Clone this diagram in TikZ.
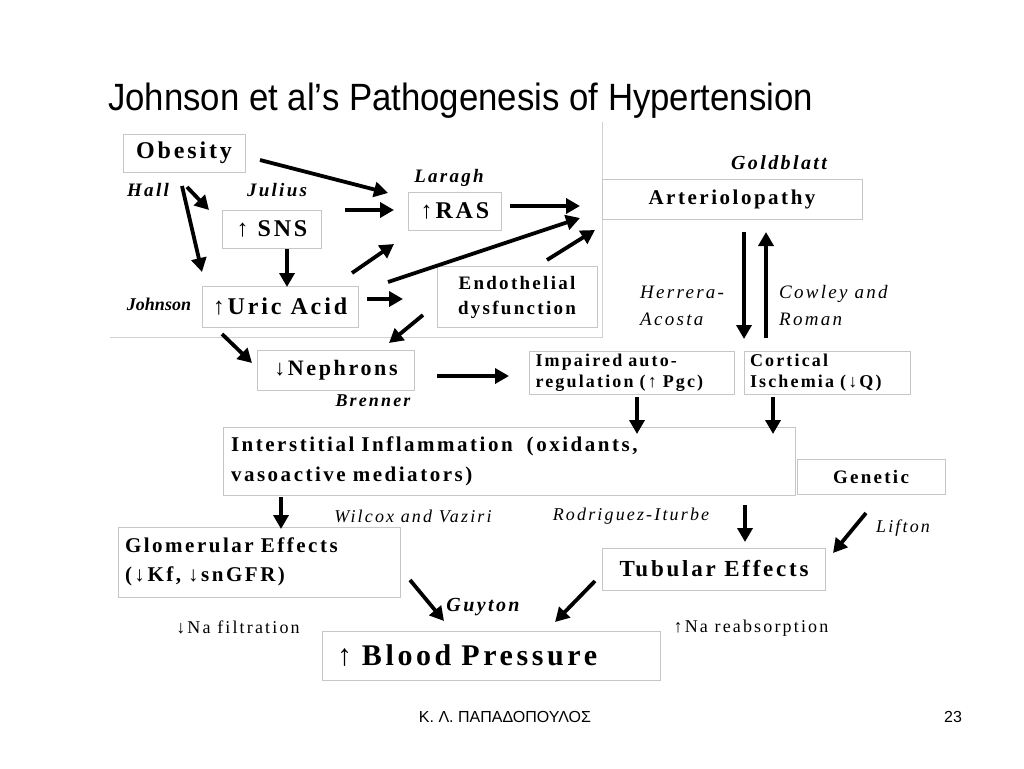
\documentclass[tikz,border=0pt]{standalone}
\usepackage{fontspec}
\setmainfont{Liberation Serif}
\newfontfamily\lsfont{Liberation Serif}[LetterSpace=12]
\newfontfamily\titlefont{Liberation Sans}
\usetikzlibrary{arrows.meta}
\newcommand\fsz[2]{\fontsize{#1pt}{#2pt}\selectfont}
\begin{document}
\begin{tikzpicture}[x=1pt,y=-1pt,
  box/.style={draw=gray!45,line width=1pt,inner xsep=8pt,inner ysep=2pt,align=center},
  bf/.style 2 args={font=\lsfont\bfseries\fsz{#1}{#2}},
  bi/.style 2 args={inner sep=0pt,font=\lsfont\bfseries\itshape\fsz{#1}{#2}},
  it/.style 2 args={inner sep=0pt,font=\lsfont\itshape\fsz{#1}{#2}},
  arr/.style={line width=3.8pt,-{Triangle[length=14pt,width=15pt]}},
  frame/.style={draw=gray!35,line width=1pt}]
\useasboundingbox (0,0) rectangle (1024,768);
\fill[white] (0,0) rectangle (1024,768);

% title
\node[inner sep=0pt,anchor=base west,font=\titlefont\fsz{38}{42}] (title) at (108,110)
  {\scalebox{0.915}[1]{Johnson et al’s Pathogenesis of Hypertension}};

% faint frame
\draw[frame] (110,337) -- (602,337) -- (602,122);

% boxes
\node[box,bf={24}{26},minimum width=122,minimum height=38] (obesity) at (184,153) {Obesity};
\node[box,bf={24}{26},minimum width=99,minimum height=38] (sns) at (272,229) {↑ SNS};
\node[box,bf={24}{26},minimum width=93,minimum height=38] (ras) at (455,211) {↑RAS};
\node[box,bf={24}{26},minimum width=156,minimum height=41] (uric) at (280,307) {↑Uric Acid};
\node[box,bf={19}{25},minimum width=160,minimum height=61] (endo) at (517,297) {Endothelial\\dysfunction};
\node[box,bf={21}{24},minimum width=260,minimum height=40] (arterio) at (732,199) {Arteriolopathy};
\node[box,bf={22}{24},minimum width=157,minimum height=40] (nephrons) at (336,370) {↓Nephrons};
\node[box,bf={18}{21},minimum width=205,minimum height=43,text width=193,align=left,inner xsep=6pt] (impaired) at (632,373) {Impaired auto-\\regulation (↑ Pgc)};
\node[box,bf={18}{21},minimum width=166,minimum height=43,text width=154,align=left,inner xsep=6pt] (cortical) at (827,373) {Cortical\\Ischemia (↓Q)};
\node[box,bf={21}{30},minimum width=572,minimum height=68,text width=556,align=left] (inter) at (509,461) {Interstitial Inflammation\ \ (oxidants,\\vasoactive mediators)};
\node[box,bf={19}{22},minimum width=148,minimum height=35] (genetic) at (871,477) {Genetic};
\node[box,bf={21}{29},minimum width=282,minimum height=70,text width=268,align=left,inner xsep=7pt] (glom) at (259,562) {Glomerular Effects\\(↓Kf, ↓snGFR)};
\node[box,bf={23}{26},minimum width=223,minimum height=42] (tubular) at (714,569) {Tubular Effects};
\node[box,bf={30}{32},minimum width=338,minimum height=49,text width=308,align=left,inner xsep=15pt] (bp) at (491,656) {↑ Blood Pressure};

% labels
\node[bi={19}{22}] (hall) at (148,190) {Hall};
\node[bi={19}{22}] (julius) at (277,190) {Julius};
\node[bi={19}{22}] (laragh) at (449,178) {Laragh};
\node[inner sep=0pt,font=\bfseries\itshape\fsz{18}{22}] (johnson) at (159,304) {Johnson};
\node[bi={20}{22}] (goldblatt) at (779,163) {Goldblatt};
\node[it={19}{27},anchor=west,align=left] (herrera) at (640,306) {Herrera-\\Acosta};
\node[it={19}{27},anchor=west,align=left] (cowley) at (779,306) {Cowley and\\Roman};
\node[bi={18}{22}] (brenner) at (373,401) {Brenner};
\node[it={18}{20}] (wilcox) at (413,516) {Wilcox and Vaziri};
\node[it={18}{20}] (rodriguez) at (631,516) {Rodriguez-Iturbe};
\node[it={18}{20}] (lifton) at (903,528) {Lifton};
\node[bi={20}{22}] (guyton) at (483,607) {Guyton};
\node[inner sep=0pt,font=\lsfont\fsz{18}{20}] (nafilt) at (238,627) {↓Na filtration};
\node[inner sep=0pt,font=\lsfont\fsz{18}{20}] (nareab) at (751,628) {↑Na reabsorption};

% footer
\node[inner sep=0pt,font=\titlefont\fsz{16}{18}] (author) at (505,717) {Κ. Λ. ΠΑΠΑΔΟΠΟΥΛΟΣ};
\node[inner sep=0pt,font=\titlefont\fsz{16}{18}] (page) at (953,717) {23};

% arrow end points
\coordinate (a1s) at (260,160); \coordinate (a1e) at (388,193);
\coordinate (a2s) at (187,187); \coordinate (a2e) at (209,210);
\coordinate (a3s) at (182,186); \coordinate (a3e) at (202,272);
\coordinate (a4s) at (345,210); \coordinate (a4e) at (394,210);
\coordinate (a5s) at (287,249); \coordinate (a5e) at (287,287);
\coordinate (a6s) at (352,273); \coordinate (a6e) at (394,244);
\coordinate (a7s) at (388,282); \coordinate (a7e) at (580,218);
\coordinate (a8s) at (510,206); \coordinate (a8e) at (580,206);
\coordinate (a9s) at (547,260); \coordinate (a9e) at (595,230);
\coordinate (a10s) at (367,299); \coordinate (a10e) at (403,299);
\coordinate (a11s) at (423,315); \coordinate (a11e) at (389,343);
\coordinate (a12s) at (222,334); \coordinate (a12e) at (252,363);
\coordinate (a13s) at (744,232); \coordinate (a13e) at (744,339);
\coordinate (a14s) at (766,338); \coordinate (a14e) at (766,232);
\coordinate (a15s) at (437,376); \coordinate (a15e) at (509,376);
\coordinate (a16s) at (637,397); \coordinate (a16e) at (637,434);
\coordinate (a17s) at (773,397); \coordinate (a17e) at (773,434);
\coordinate (a18s) at (281,497); \coordinate (a18e) at (281,529);
\coordinate (a19s) at (745,505); \coordinate (a19e) at (745,542);
\coordinate (a20s) at (866,513); \coordinate (a20e) at (833,553);
\coordinate (a21s) at (410,580); \coordinate (a21e) at (444,621);
\coordinate (a22s) at (595,581); \coordinate (a22e) at (555,622);

\foreach \i in {1,...,22} \draw[arr] (a\i s) -- (a\i e);
\end{tikzpicture}
\end{document}
